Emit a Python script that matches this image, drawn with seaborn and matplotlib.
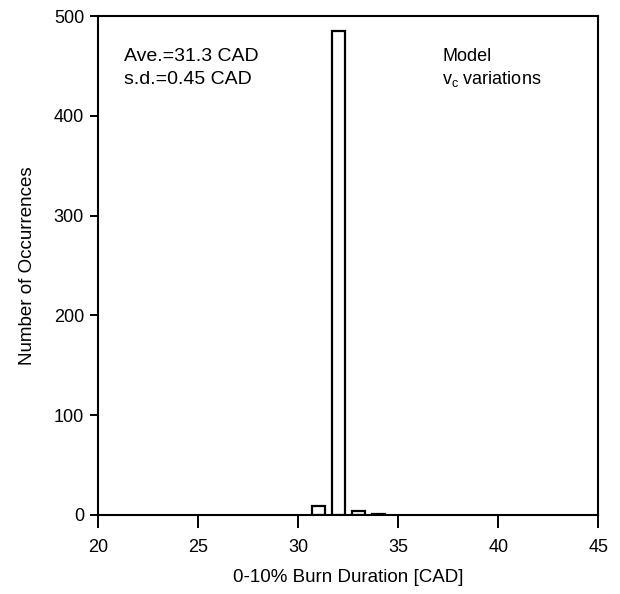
import numpy as np
import pandas as pd
import matplotlib
matplotlib.use('Agg')
import matplotlib.pyplot as plt
import seaborn as sns

# ============================================
# Data
# ============================================
bin_centers = [31, 32, 33, 34]
occurrences = [9, 485, 4, 1]
x_ticks = [20, 25, 30, 35, 40, 45]
y_ticks = [0, 100, 200, 300, 400, 500]

df = pd.DataFrame({'duration': bin_centers, 'count': occurrences})

sns.set_style('ticks')
plt.rcParams['font.family'] = ['Liberation Sans', 'DejaVu Sans']
plt.rcParams['text.color'] = 'black'
plt.rcParams['axes.labelcolor'] = 'black'

fig = plt.figure(figsize=(6.2, 5.94), dpi=100)
ax = fig.add_axes([0.158, 0.133, 0.807, 0.84])

sns.barplot(data=df, x='duration', y='count', native_scale=True, width=0.65,
            color='white', edgecolor='black', linewidth=1.6, ax=ax)

ax.set_xlim(20, 45)
ax.set_ylim(0, 500)
ax.set_xticks(x_ticks)
ax.set_yticks(y_ticks)
ax.tick_params(axis='both', labelsize=13, width=1.4, colors='black')
ax.tick_params(axis='x', length=9, pad=8)
ax.tick_params(axis='y', length=6, pad=4)
for side in ['left', 'right', 'top', 'bottom']:
    ax.spines[side].set_visible(True)
    ax.spines[side].set_linewidth(1.5)
    ax.spines[side].set_color('black')

ax.set_xlabel('0-10% Burn Duration [CAD]', fontsize=13.5, labelpad=10)
ax.set_ylabel('Number of Occurrences', fontsize=13.5)
ax.yaxis.set_label_coords(-0.124, 0.5)

ax.text(0.052, 0.918, 'Ave.=31.3 CAD', transform=ax.transAxes, fontsize=14, va='center')
ax.text(0.052, 0.873, 's.d.=0.45 CAD', transform=ax.transAxes, fontsize=14, va='center')
ax.text(0.688, 0.918, 'Model', transform=ax.transAxes, fontsize=13, va='center')
ax.text(0.688, 0.873, r'v$_\mathregular{c}$ variations', transform=ax.transAxes, fontsize=13, va='center')

plt.savefig('out.png', dpi=100)
